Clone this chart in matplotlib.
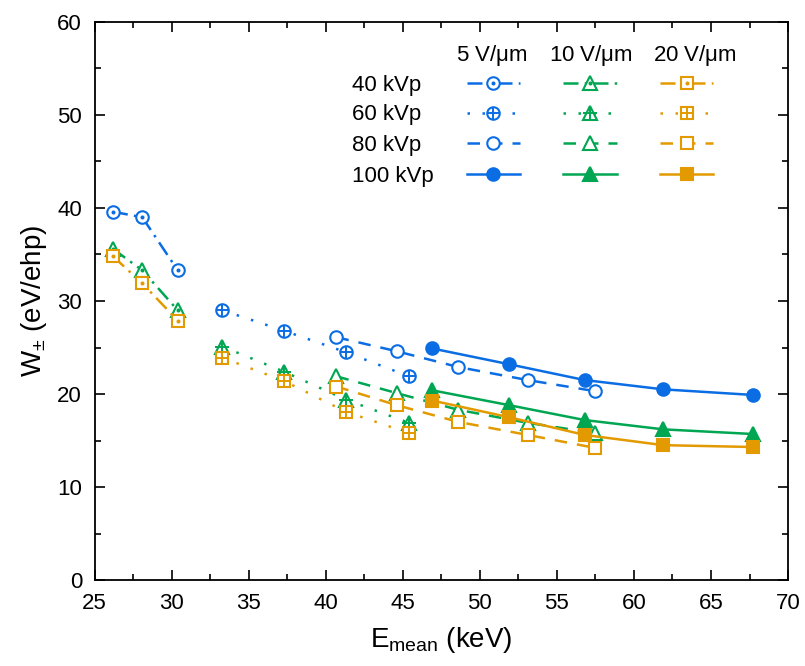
import matplotlib
matplotlib.use('Agg')
import matplotlib.pyplot as plt
from matplotlib.ticker import MultipleLocator

plt.rcParams['font.family'] = ['Liberation Sans', 'DejaVu Sans']
plt.rcParams['mathtext.fontset'] = 'custom'
plt.rcParams['mathtext.rm'] = 'Liberation Sans'
plt.rcParams['mathtext.default'] = 'regular'

# mean energies (keV) per tube voltage
e_40 = [26.2, 28.1, 30.4]
e_60 = [33.3, 37.3, 41.3, 45.4]
e_80 = [40.7, 44.6, 48.6, 53.1, 57.5]
e_100 = [46.9, 51.9, 56.8, 61.9, 67.7]

# W+- (eV/ehp), 5 V/um
w5_40 = [39.6, 39.0, 33.3]
w5_60 = [29.0, 26.8, 24.5, 21.9]
w5_80 = [26.1, 24.6, 22.9, 21.5, 20.3]
w5_100 = [24.9, 23.2, 21.5, 20.5, 19.9]

# 10 V/um
w10_40 = [35.6, 33.3, 29.0]
w10_60 = [25.1, 22.4, 19.4, 16.9]
w10_80 = [21.9, 20.1, 18.3, 16.9, 15.8]
w10_100 = [20.4, 18.8, 17.2, 16.2, 15.7]

# 20 V/um
w20_40 = [34.8, 31.9, 27.9]
w20_60 = [23.9, 21.4, 18.1, 15.8]
w20_80 = [20.8, 18.8, 17.0, 15.6, 14.2]
w20_100 = [19.3, 17.5, 15.6, 14.5, 14.3]

kvp_labels = ['40 kVp', '60 kVp', '80 kVp', '100 kVp']
field_labels = ['5 V/$\\mu$m', '10 V/$\\mu$m', '20 V/$\\mu$m']

blue = '#0a6de4'
green = '#00a651'
orange = '#e29a00'

styles = [(0, (6, 2.5, 1, 2.5)), (0, (1, 5)), (0, (5, 4)), '-']
centers = ['.', '+', None, None]

fig = plt.figure(figsize=(8.05, 6.66), dpi=100)
ax = fig.add_axes([0.1174, 0.1291, 0.8616, 0.8379])

series = [
    (blue, 'o', [w5_40, w5_60, w5_80, w5_100], 9),
    (green, '^', [w10_40, w10_60, w10_80, w10_100], 10),
    (orange, 's', [w20_40, w20_60, w20_80, w20_100], 8),
]
energies = [e_40, e_60, e_80, e_100]

handles = []
for color, mk, ws, ms in series:
    for i, (e, w) in enumerate(zip(energies, ws)):
        filled = i == 3
        ln, = ax.plot(e, w, ls=styles[i], color=color, lw=1.8, marker=mk, ms=ms,
                      mfc=color if filled else 'white', mec=color, mew=1.5)
        h = ln
        if centers[i] is not None:
            cms = 3 if centers[i] == '.' else ms * 0.95
            c, = ax.plot(e, w, ls='none', marker=centers[i], color=color,
                         ms=cms, mew=1.4)
            h = (ln, c)
        handles.append(h)

leg = ax.legend(handles, [''] * 12, ncol=3, frameon=False, fontsize=16,
                handlelength=2.4, handletextpad=0, columnspacing=1.95,
                labelspacing=0.42, borderpad=0, borderaxespad=0,
                loc='upper left', bbox_to_anchor=(0.5367, 0.906))

row_y = [0.886, 0.8335, 0.778, 0.7236]
for lab, y in zip(kvp_labels, row_y):
    ax.text(0.3713, y, lab, transform=ax.transAxes, fontsize=16,
            ha='left', va='center')
for lab, x in zip(field_labels, [0.5727, 0.7157, 0.866]):
    ax.text(x, 0.9407, lab, transform=ax.transAxes, fontsize=16,
            ha='center', va='center')

ax.set_xlim(25, 70)
ax.set_ylim(0, 60)
ax.xaxis.set_major_locator(MultipleLocator(5))
ax.xaxis.set_minor_locator(MultipleLocator(2.5))
ax.yaxis.set_major_locator(MultipleLocator(10))
ax.yaxis.set_minor_locator(MultipleLocator(5))
ax.tick_params(which='both', direction='in', top=True, right=True,
               labelsize=16, width=1.2)
ax.tick_params(which='major', length=7)
ax.tick_params(which='minor', length=4)
ax.tick_params(axis='x', which='major', pad=9)
ax.tick_params(axis='y', which='major', pad=9)
for s in ax.spines.values():
    s.set_linewidth(1.3)

ax.set_xlabel('E$_{mean}$ (keV)', fontsize=20, labelpad=8)
ax.set_ylabel('W$_{\\pm}$ (eV/ehp)', fontsize=20, labelpad=6)

fig.savefig('out.png', dpi=100)
